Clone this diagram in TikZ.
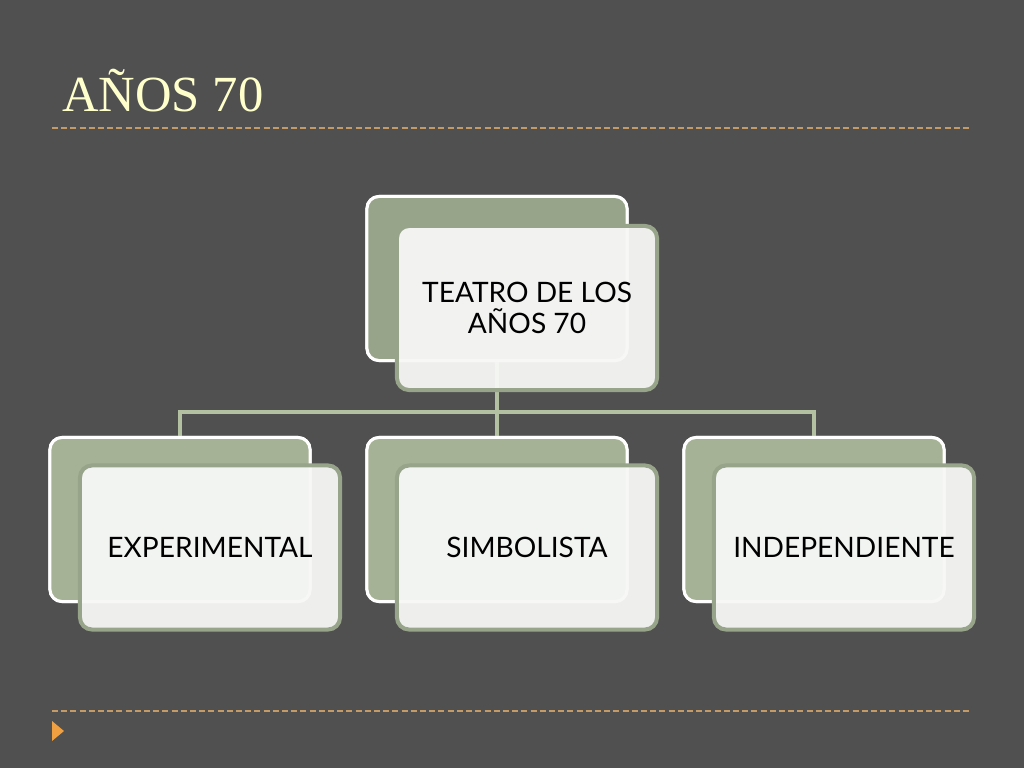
\documentclass[tikz,border=0pt]{standalone}
\usepackage{fontspec}
\setmainfont{Liberation Serif}
\newfontfamily\boxfont{Lato}
\usepackage{xcolor}
\usepackage{tikz}
\usetikzlibrary{shapes,arrows,positioning}

\definecolor{slidebg}{HTML}{505050}
\definecolor{titlecream}{HTML}{FFFFCC}
\definecolor{dashtan}{HTML}{C49A66}
\definecolor{arrowtip}{HTML}{F0A040}
\definecolor{olivetop}{HTML}{97A48A}
\definecolor{olivelow}{HTML}{A6B295}
\definecolor{oliveline}{HTML}{B4C0A2}
\definecolor{paleface}{HTML}{F7F8F6}

\tikzset{
    backbox/.style={
        draw=white,
        line width=0.075cm,
        rounded corners=0.3cm,
        minimum width=6.5cm,
        minimum height=4.1cm
    },
    facebox/.style={
        draw=olivetop,
        line width=0.1cm,
        rounded corners=0.3cm,
        fill=paleface,
        fill opacity=0.95,
        text opacity=1,
        minimum width=6.5cm,
        minimum height=4.1cm,
        align=center,
        font=\boxfont\fontsize{20}{22}\selectfont
    },
    linkline/.style={
        draw=oliveline,
        line width=0.08cm
    },
    rule/.style={
        draw=dashtan,
        line width=0.035cm,
        dash pattern=on 0.15cm off 0.08cm
    }
}

\begin{document}
\begin{tikzpicture}[x=0.025cm,y=-0.025cm]

                \fill[slidebg] (0,0) rectangle (1024,768);

                \node[
                    anchor=base west,
                    text=titlecream,
                    font=\fontsize{36}{40}\selectfont,
                    inner sep=0pt
                ] (title) at (62,112) {AÑOS 70};

                \coordinate (ruletopl) at (52,128);
                \coordinate (ruletopr) at (972,128);
                \coordinate (rulelowl) at (52,711);
                \coordinate (rulelowr) at (972,711);
                \draw[rule] (ruletopl) -- (ruletopr);
                \draw[rule] (rulelowl) -- (rulelowr);

                \fill[arrowtip] (52,721) -- (64,731) -- (52,741) -- cycle;

                \node[backbox, fill=olivetop] (topback) at (497,278.5) {};
                \node[backbox, fill=olivelow] (expback) at (180,519.5) {};
                \node[backbox, fill=olivelow] (simback) at (497,519.5) {};
                \node[backbox, fill=olivelow] (indback) at (814,519.5) {};

                \coordinate (bus) at (497,412);
                \draw[linkline] (topback.south) -- (bus) -| (expback.north);
                \draw[linkline] (bus) -| (indback.north);
                \draw[linkline] (bus) -- (simback.north);

                \node[backbox, fill=olivetop] at (topback) {};
                \node[backbox, fill=olivelow] at (expback) {};
                \node[backbox, fill=olivelow] at (simback) {};
                \node[backbox, fill=olivelow] at (indback) {};

                \node[facebox] (teatro) at (527,308) {TEATRO DE LOS\\AÑOS 70};
                \node[facebox] (exp) at (210,547.5) {EXPERIMENTAL};
                \node[facebox] (sim) at (527,547.5) {SIMBOLISTA};
                \node[facebox] (ind) at (844,547.5) {INDEPENDIENTE};

\end{tikzpicture}
\end{document}
